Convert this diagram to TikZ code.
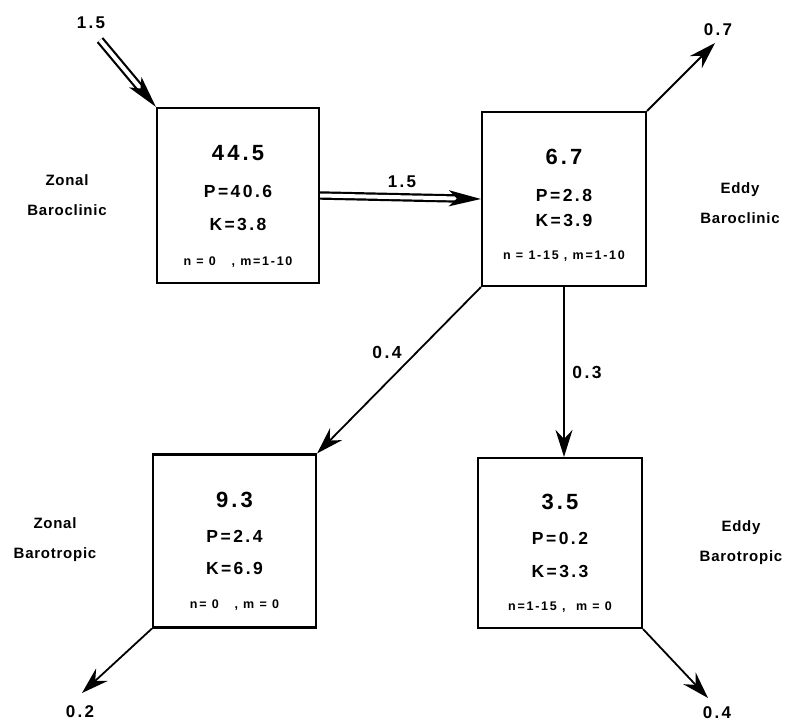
\documentclass[tikz,border=0pt]{standalone}
\usepackage{fontspec}
\usetikzlibrary{arrows.meta}
\newfontfamily\boxfont[LetterSpace=14]{Liberation Sans}
\newfontfamily\namefont[LetterSpace=5]{Liberation Sans}

\begin{document}
\begin{tikzpicture}[x=1pt,y=-1pt,
 box/.style ={draw=black,line width=2.2pt,inner sep=0pt},
 total/.style ={font=\boxfont\bfseries\fontsize{22}{22}\selectfont},
 energy/.style ={font=\boxfont\bfseries\fontsize{17.5}{17.5}\selectfont},
 modes/.style ={font=\boxfont\bfseries\fontsize{12.5}{12.5}\selectfont},
 region/.style ={align=center,font=\namefont\bfseries\fontsize{15}{30}\selectfont},
 flow/.style ={font=\boxfont\bfseries\fontsize{17}{17}\selectfont},
 transfer/.style ={-{Stealth[length=27pt,width=17pt,inset=9pt]},line width=1.8pt},
 input/.style ={-{Stealth[length=32pt,width=16pt,inset=8pt]},double,double distance=4pt,line width=2.2pt}
 ]
\useasboundingbox (0,0) rectangle (787,722);
%draw zonal baroclinic box
\node[box,minimum width=162pt,minimum height=175pt] (zbc) at (238,195.5) {};
\node[total,yshift=-46pt] (zbc-total) at (zbc.north) {44.5};
\node[energy,yshift=-85pt] (zbc-p) at (zbc.north) {P=40.6};
\node[energy,yshift=-118pt] (zbc-k) at (zbc.north) {K=3.8};
\node[modes,yshift=-155pt] (zbc-modes) at (zbc.north) {n = 0\ \ \ , m=1-10};
\node[region] (zbc-name) at (67,195) {Zonal\\Baroclinic};
%draw eddy baroclinic box
\node[box,minimum width=164pt,minimum height=174pt] (ebc) at (564,199) {};
\node[total,yshift=-46pt] (ebc-total) at (ebc.north) {6.7};
\node[energy,yshift=-85pt] (ebc-p) at (ebc.north) {P=2.8};
\node[energy,yshift=-110pt] (ebc-k) at (ebc.north) {K=3.9};
\node[modes,yshift=-145pt] (ebc-modes) at (ebc.north) {n = 1-15 , m=1-10};
\node[region] (ebc-name) at (740,203) {Eddy\\Baroclinic};
%draw zonal barotropic box
\node[box,minimum width=163pt,minimum height=173pt] (zbt) at (234.5,541) {};
\node[total,yshift=-47pt] (zbt-total) at (zbt.north) {9.3};
\node[energy,yshift=-83pt] (zbt-p) at (zbt.north) {P=2.4};
\node[energy,yshift=-115pt] (zbt-k) at (zbt.north) {K=6.9};
\node[modes,yshift=-152pt] (zbt-modes) at (zbt.north) {n= 0\ \ \ , m = 0};
\node[region] (zbt-name) at (55,540) {Zonal\\Barotropic};
%draw eddy barotropic box
\node[box,minimum width=164pt,minimum height=170pt] (ebt) at (560,543) {};
\node[total,yshift=-45pt] (ebt-total) at (ebt.north) {3.5};
\node[energy,yshift=-82pt] (ebt-p) at (ebt.north) {P=0.2};
\node[energy,yshift=-115pt] (ebt-k) at (ebt.north) {K=3.3};
\node[modes,yshift=-150pt] (ebt-modes) at (ebt.north) {n=1-15 ,\ \ m = 0};
\node[region] (ebt-name) at (741,543) {Eddy\\Barotropic};
%draw input to zonal baroclinic
\coordinate (zbc-in) at (100,40);
\node[flow] (zbc-in-val) at (91,23) {1.5};
\draw[input] (zbc-in) -- (zbc.north west);
%draw conversion zonal to eddy baroclinic
\draw[input] (zbc.east) -- (ebc.west);
\node[flow] (zbc-ebc-val) at (402,182) {1.5};
%draw loss of eddy baroclinic
\coordinate (ebc-out) at (715,43);
\draw[transfer] (ebc.north east) -- (ebc-out);
\node[flow] (ebc-out-val) at (718,30) {0.7};
%draw conversion eddy baroclinic to zonal barotropic
\draw[transfer] (ebc.south west) -- (zbt.north east);
\node[energy] (ebc-zbt-val) at (387,352) {0.4};
%draw conversion eddy baroclinic to eddy barotropic
\draw[transfer] (ebc.south) -- (ebc.south |- ebt.north);
\node[energy] (ebc-ebt-val) at (587,372) {0.3};
%draw loss of zonal barotropic
\coordinate (zbt-out) at (82,693);
\draw[transfer] (zbt.south west) -- (zbt-out);
\node[flow] (zbt-out-val) at (80,712) {0.2};
%draw loss of eddy barotropic
\coordinate (ebt-out) at (708,698);
\draw[transfer] (ebt.south east) -- (ebt-out);
\node[flow] (ebt-out-val) at (717,713) {0.4};
\end{tikzpicture}
\end{document}
